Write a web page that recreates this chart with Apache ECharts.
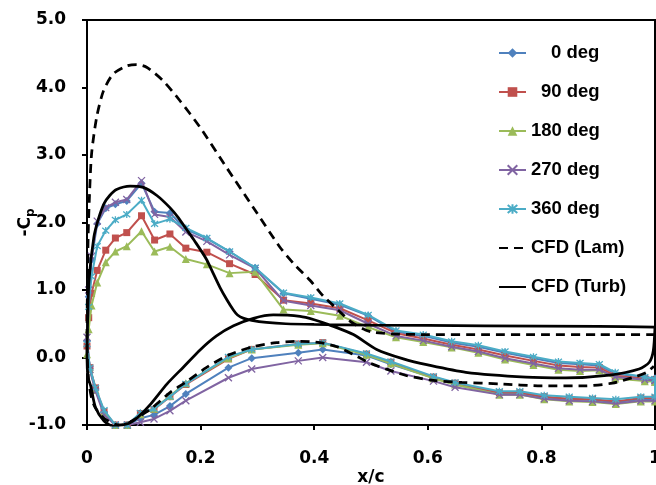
<!DOCTYPE html>
<html>
<head>
<meta charset="utf-8">
<script src="https://cdn.jsdelivr.net/npm/echarts@6/dist/echarts.min.js"></script>
<style>html,body{margin:0;padding:0;background:#fff}#c{width:656px;height:485px}</style>
</head>
<body>
<div id="c"></div>
<script>
// ---- data ----
const seriesNames = ['0 deg', '90 deg', '180 deg', '270 deg', '360 deg', 'CFD (Lam)', 'CFD (Turb)'];
const xTicks = [0, 0.2, 0.4, 0.6, 0.8, 1];
const yTicks = [-1, 0, 1, 2, 3, 4, 5];

// upper surface taps, trailing edge -> leading edge
const xUpper = [1.0, 0.982, 0.930, 0.902, 0.868, 0.830, 0.786, 0.736, 0.689, 0.642, 0.592, 0.544, 0.495, 0.445, 0.394, 0.346, 0.296, 0.251, 0.211, 0.174, 0.146, 0.119, 0.096, 0.070, 0.050, 0.033, 0.018, 0.008, 0.003, 0.0];
// lower surface taps, leading edge -> trailing edge
const xLower = [0.005, 0.015, 0.030, 0.050, 0.071, 0.094, 0.118, 0.146, 0.174, 0.249, 0.290, 0.372, 0.415, 0.492, 0.535, 0.610, 0.648, 0.726, 0.762, 0.805, 0.849, 0.890, 0.931, 0.975, 1.0];

const up0   = [-0.31, -0.29, -0.24, -0.12, -0.10, -0.08, -0.01, 0.07, 0.16, 0.22, 0.32, 0.38, 0.62, 0.78, 0.87, 0.95, 1.33, 1.57, 1.76, 1.90, 2.14, 2.16, 2.58, 2.32, 2.27, 2.21, 1.98, 1.45, 0.90, 0.25];
const up90  = [-0.33, -0.31, -0.27, -0.15, -0.14, -0.12, -0.05, 0.03, 0.12, 0.19, 0.28, 0.36, 0.55, 0.73, 0.80, 0.85, 1.23, 1.39, 1.56, 1.62, 1.83, 1.74, 2.10, 1.85, 1.77, 1.59, 1.29, 0.95, 0.59, 0.17];
const up180 = [-0.36, -0.35, -0.31, -0.19, -0.20, -0.18, -0.11, -0.03, 0.07, 0.15, 0.23, 0.30, 0.45, 0.62, 0.69, 0.71, 1.27, 1.25, 1.38, 1.46, 1.64, 1.57, 1.87, 1.65, 1.57, 1.41, 1.11, 0.77, 0.42, 0.05];
const up270 = [-0.34, -0.33, -0.29, -0.18, -0.18, -0.16, -0.09, -0.01, 0.09, 0.16, 0.25, 0.32, 0.50, 0.70, 0.77, 0.84, 1.32, 1.52, 1.72, 1.86, 2.08, 2.12, 2.62, 2.34, 2.30, 2.22, 2.02, 1.50, 1.00, 0.30];
const up360 = [-0.32, -0.29, -0.22, -0.10, -0.08, -0.06, 0.01, 0.09, 0.18, 0.24, 0.34, 0.40, 0.63, 0.80, 0.89, 0.96, 1.33, 1.57, 1.77, 1.92, 2.05, 1.98, 2.33, 2.12, 2.04, 1.88, 1.65, 1.20, 0.75, 0.20];

const lo0   = [-0.16, -0.47, -0.82, -1.0, -1.0, -0.90, -0.85, -0.72, -0.54, -0.15, -0.01, 0.07, 0.12, 0.03, -0.10, -0.30, -0.40, -0.53, -0.53, -0.59, -0.62, -0.63, -0.66, -0.62, -0.62];
const lo90  = [-0.15, -0.45, -0.80, -1.0, -1.0, -0.83, -0.77, -0.58, -0.40, -0.02, 0.12, 0.20, 0.22, 0.05, -0.07, -0.29, -0.38, -0.52, -0.52, -0.58, -0.61, -0.62, -0.65, -0.60, -0.60];
const lo180 = [-0.17, -0.48, -0.82, -1.0, -1.0, -0.84, -0.76, -0.57, -0.38, -0.01, 0.12, 0.19, 0.21, 0.04, -0.09, -0.31, -0.40, -0.55, -0.55, -0.62, -0.65, -0.66, -0.69, -0.65, -0.65];
const lo270 = [-0.18, -0.50, -0.85, -1.0, -1.0, -0.96, -0.91, -0.79, -0.64, -0.30, -0.17, -0.05, 0.00, -0.07, -0.20, -0.35, -0.44, -0.55, -0.55, -0.61, -0.64, -0.65, -0.68, -0.64, -0.64];
const lo360 = [-0.15, -0.45, -0.78, -1.0, -1.0, -0.82, -0.76, -0.58, -0.39, 0.01, 0.12, 0.20, 0.22, 0.06, -0.06, -0.28, -0.37, -0.50, -0.50, -0.56, -0.58, -0.60, -0.62, -0.58, -0.58];

// CFD laminar: upper TE -> LE, then lower LE -> TE
const lamX = [1.0, 0.9, 0.8, 0.7, 0.6, 0.55, 0.52, 0.5, 0.487, 0.463, 0.44, 0.416, 0.393, 0.365, 0.34, 0.293, 0.246, 0.199, 0.164, 0.134, 0.105, 0.087, 0.07, 0.046, 0.029, 0.017, 0.008, 0.004, 0.002, 0.001, 0.0,
              0.001, 0.003, 0.008, 0.015, 0.03, 0.05, 0.065, 0.079, 0.111, 0.146, 0.175, 0.21, 0.25, 0.293, 0.334, 0.375, 0.41, 0.44, 0.47, 0.5, 0.53, 0.563, 0.61, 0.66, 0.726, 0.8, 0.878, 0.925, 0.96, 0.985, 0.998];
const lamY = [0.34, 0.34, 0.34, 0.34, 0.34, 0.345, 0.36, 0.38, 0.42, 0.54, 0.72, 0.91, 1.14, 1.38, 1.63, 2.22, 2.81, 3.41, 3.80, 4.10, 4.30, 4.34, 4.32, 4.20, 3.95, 3.56, 3.01, 2.32, 1.80, 1.20, 0.30,
              -0.10, -0.35, -0.60, -0.75, -0.90, -0.99, -1.0, -0.94, -0.77, -0.52, -0.36, -0.15, 0.04, 0.16, 0.22, 0.24, 0.22, 0.16, 0.04, -0.09, -0.18, -0.27, -0.34, -0.37, -0.39, -0.42, -0.42, -0.38, -0.30, -0.22, -0.13];

// CFD turbulent: upper TE -> LE, then lower LE -> TE
const turbX = [1.0, 0.9, 0.7, 0.5, 0.4, 0.35, 0.316, 0.29, 0.276, 0.265, 0.258, 0.246, 0.234, 0.222, 0.21, 0.19, 0.175, 0.16, 0.146, 0.123, 0.099, 0.076, 0.052, 0.04, 0.03, 0.02, 0.012, 0.0035, 0.001, 0.0,
               0.002, 0.0065, 0.015, 0.03, 0.047, 0.062, 0.075, 0.089, 0.112, 0.141, 0.17, 0.2, 0.228, 0.258, 0.293, 0.328, 0.375, 0.4, 0.428, 0.469, 0.51, 0.557, 0.6, 0.667, 0.773, 0.843, 0.92, 0.972, 0.99, 0.997, 1.0];
const turbY = [0.45, 0.46, 0.47, 0.48, 0.49, 0.50, 0.52, 0.55, 0.58, 0.63, 0.70, 0.86, 1.04, 1.25, 1.46, 1.72, 1.90, 2.08, 2.22, 2.40, 2.52, 2.54, 2.49, 2.40, 2.28, 2.05, 1.78, 1.14, 0.50, 0.0,
               -0.30, -0.42, -0.74, -0.94, -1.02, -1.0, -0.97, -0.89, -0.69, -0.39, -0.14, 0.12, 0.32, 0.47, 0.58, 0.63, 0.61, 0.56, 0.48, 0.34, 0.12, -0.02, -0.11, -0.22, -0.29, -0.30, -0.26, -0.17, -0.07, 0.10, 0.45];

// ---- build ----
function loop(up, lo) {
  const d = [];
  for (let i = 0; i < xUpper.length; i++) d.push([xUpper[i], up[i]]);
  for (let i = 0; i < xLower.length; i++) d.push([xLower[i], lo[i]]);
  d.push([xUpper[0], up[0]]);
  return d;
}
function pairs(xs, ys) { return xs.map((x, i) => [x, ys[i]]); }

const colors = ['#4F81BD', '#C0504D', '#9BBB59', '#8064A2', '#4BACC6', '#000000', '#000000'];
const xPath = 'path://M0,0L10,10M10,0L0,10';
const starPath = 'path://M0,0L10,10M10,0L0,10M5,-1L5,11';

const expData = [loop(up0, lo0), loop(up90, lo90), loop(up180, lo180), loop(up270, lo270), loop(up360, lo360)];
const symbols = ['diamond', 'rect', 'triangle', xPath, starPath];
const symSizes = [8, 7, 8, 7, 7];

const series = expData.map((d, i) => ({
  name: seriesNames[i], type: 'line', data: d,
  symbol: symbols[i], symbolSize: symSizes[i], showSymbol: true,
  lineStyle: { color: colors[i], width: 2 },
  itemStyle: { color: colors[i], borderColor: colors[i], borderWidth: (i >= 3 ? 1.3 : 0) },
  z: 2 + i, animation: false
}));
series.push({
  name: seriesNames[5], type: 'line', data: pairs(lamX, lamY), smooth: 0.25,
  symbol: 'none', lineStyle: { color: '#000', width: 2.75, type: [9, 6] },
  itemStyle: { color: '#000' }, z: 10, animation: false
});
series.push({
  name: seriesNames[6], type: 'line', data: pairs(turbX, turbY), smooth: 0.25,
  symbol: 'none', lineStyle: { color: '#000', width: 2.75 },
  itemStyle: { color: '#000' }, z: 11, animation: false
});

const tickFont = { fontFamily: 'DejaVu Sans', fontWeight: 'bold', fontSize: 17, color: '#000' };
const noSym = { color: 'rgba(0,0,0,0)', borderWidth: 0, opacity: 0 };

const chart = echarts.init(document.getElementById('c'), null, { renderer: 'canvas' });
chart.setOption({
  animation: false,
  backgroundColor: '#fff',
  grid: { left: 87, right: 1, top: 20, bottom: 60, show: true, borderColor: '#000', borderWidth: 2,
          containLabel: false, outerBoundsMode: 'none' },
  legend: {
    orient: 'vertical', left: 493, top: 38, itemWidth: 27, itemHeight: 12, itemGap: 19,
    data: [seriesNames[0], seriesNames[1], seriesNames[2], seriesNames[3], seriesNames[4],
           { name: seriesNames[5], itemStyle: noSym },
           { name: seriesNames[6], itemStyle: noSym }],
    textStyle: { fontFamily: 'Liberation Sans', fontWeight: 'bold', fontSize: 18.5, color: '#000', lineHeight: 20,
      rich: { p1: { width: 10 }, p2: { width: 20 } } },
    formatter: n => n === '0 deg' ? '{p2| }' + n : (n === '90 deg' ? '{p1| }' + n : n)
  },
  xAxis: {
    type: 'value', min: xTicks[0], max: xTicks[xTicks.length - 1], interval: 0.2,
    name: 'x/c', nameLocation: 'middle', nameGap: 44, nameMoveOverlap: false,
    nameTextStyle: tickFont,
    axisLine: { onZero: false, lineStyle: { color: '#000', width: 2 } },
    axisTick: { show: true, length: 5, lineStyle: { color: '#000', width: 2 } },
    axisLabel: Object.assign({ margin: 25, formatter: v => (v === 0 ? '0' : (v === 1 ? '1' : v.toFixed(1))) }, tickFont),
    splitLine: { show: false }
  },
  yAxis: {
    type: 'value', min: yTicks[0], max: yTicks[yTicks.length - 1], interval: 1,
    name: '{a|-C}{b|p}', nameLocation: 'middle', nameGap: 50, nameRotate: 90, nameMoveOverlap: false,
    nameTextStyle: { rich: {
      a: { fontFamily: 'DejaVu Sans', fontWeight: 'bold', fontSize: 17, color: '#000' },
      b: { fontFamily: 'DejaVu Sans', fontWeight: 'bold', fontSize: 12, color: '#000', padding: [10, 0, 0, 0] } } },
    axisLine: { onZero: false, lineStyle: { color: '#000', width: 2 } },
    axisTick: { show: true, length: 5, lineStyle: { color: '#000', width: 2 } },
    axisLabel: Object.assign({ margin: 21, formatter: v => v.toFixed(1) }, tickFont),
    splitLine: { show: false }
  },
  series: series
});
</script>
</body>
</html>
